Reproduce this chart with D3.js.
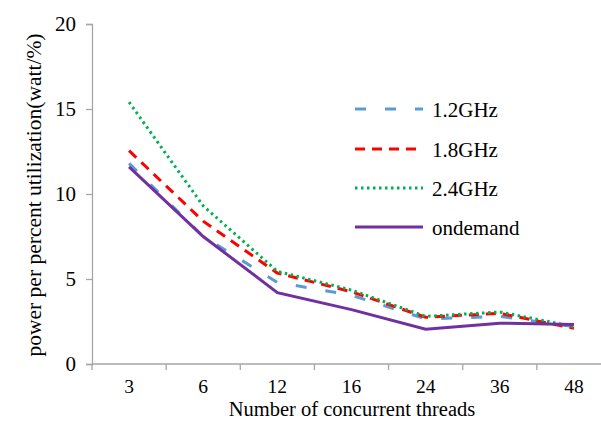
<!DOCTYPE html>
<html>
<head>
<meta charset="utf-8">
<script src="https://cdn.jsdelivr.net/npm/d3@7"></script>
<style>
  html, body { margin: 0; padding: 0; background: #fff; }
  svg { display: block; }
</style>
</head>
<body>
<svg id="chart" width="601" height="421"></svg>
<script>
// Thread counts on the x axis
const threads = ["3", "6", "12", "16", "24", "36", "48"];
// Power per percent utilization (watt/%) for each governor setting
const ghz12 = [11.8, 7.5, 4.8, 4.05, 2.65, 2.8, 2.2];
const ghz18 = [12.55, 8.4, 5.35, 4.25, 2.75, 2.98, 2.1];
const ghz24 = [15.4, 9.3, 5.45, 4.35, 2.8, 3.06, 2.2];
const ondemand = [11.6, 7.5, 4.2, 3.2, 2.05, 2.4, 2.33];
const yTicks = [0, 5, 10, 15, 20];

const series = [
  { name: "1.2GHz", values: ghz12, color: "#5b9bd5", dash: "11,19", width: 3 },
  { name: "1.8GHz", values: ghz18, color: "#ff0000", dash: "10,7", width: 3 },
  { name: "2.4GHz", values: ghz24, color: "#00b050", dash: "2.5,3.5", width: 3 },
  { name: "ondemand", values: ondemand, color: "#7030a0", dash: null, width: 3 }
];

const FONT = "Liberation Serif";

const svg = d3.select("#chart");
const plotLeft = 92, plotRight = 611, plotTop = 24, plotBottom = 364;

const x = d3.scaleBand().domain(threads).range([plotLeft, plotRight]);
const y = d3.scaleLinear().domain([0, 20]).range([plotBottom, plotTop]);

// Y axis
const yAxis = svg.append("g").attr("transform", `translate(${plotLeft},0)`)
  .call(d3.axisLeft(y).tickValues(yTicks).tickSize(6).tickSizeOuter(6).tickPadding(10));
yAxis.attr("font-family", FONT).attr("font-size", 21);
yAxis.selectAll("path, line").attr("stroke", "#a6a6a6").attr("stroke-width", 1.3);
yAxis.selectAll("text").style("font-family", FONT).style("font-size", "21px").attr("fill", "#000");

// X axis with ticks on category boundaries
const xAxis = svg.append("g").attr("transform", `translate(0,${plotBottom})`);
xAxis.append("line").attr("x1", plotLeft).attr("x2", plotRight).attr("stroke", "#a6a6a6").attr("stroke-width", 1.3);
const bounds = threads.map(d => x(d)).concat([plotRight]);
xAxis.selectAll("line.tick").data(bounds).enter().append("line")
  .attr("class", "tick")
  .attr("x1", d => d).attr("x2", d => d).attr("y1", 0).attr("y2", 6)
  .attr("stroke", "#a6a6a6").attr("stroke-width", 1.3);
xAxis.selectAll("text").data(threads).enter().append("text")
  .attr("x", d => x(d) + x.bandwidth() / 2)
  .attr("y", 29)
  .attr("text-anchor", "middle")
  .style("font-family", FONT)
  .style("font-size", "19.5px")
  .text(d => d);

// Axis titles
svg.append("text")
  .attr("x", 352).attr("y", 415.5)
  .attr("text-anchor", "middle")
  .style("font-family", FONT)
  .style("font-size", "20.5px")
  .text("Number of concurrent threads");
svg.append("text")
  .attr("transform", "translate(41,195) rotate(-90)")
  .attr("text-anchor", "middle")
  .style("font-family", FONT)
  .style("font-size", "21.5px")
  .text("power per percent utilization(watt/%)");

// Series lines
const line = d3.line()
  .x((d, i) => x(threads[i]) + x.bandwidth() / 2)
  .y(d => y(d));

series.forEach(s => {
  svg.append("path")
    .datum(s.values)
    .attr("fill", "none")
    .attr("stroke", s.color)
    .attr("stroke-width", s.width)
    .attr("stroke-dasharray", s.dash)
    .attr("d", line);
});

// Legend
const legendY = [109, 149, 188, 227];
series.forEach((s, i) => {
  const g = svg.append("g").attr("transform", `translate(0,${legendY[i]})`);
  g.append("line")
    .attr("x1", 355).attr("x2", 423)
    .attr("stroke", s.color)
    .attr("stroke-width", s.width)
    .attr("stroke-dasharray", s.dash);
  g.append("text")
    .attr("x", 432).attr("y", 7.5)
    .style("font-family", FONT)
    .style("font-size", "21px")
    .text(s.name);
});
</script>
</body>
</html>
